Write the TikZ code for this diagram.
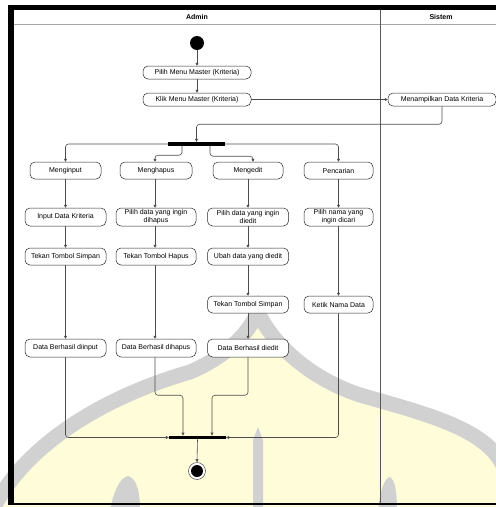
\documentclass[tikz,border=0pt]{standalone}
\usepackage{fontspec}
\setmainfont{Liberation Sans}
\usetikzlibrary{arrows.meta}
\begin{document}
\begin{tikzpicture}[x=1pt,y=-1pt,
  act/.style={draw=black!85, line width=0.5pt, rounded corners=5pt, fill=white, inner sep=0pt,
    font=\fontsize{7}{8}\selectfont, align=center},
  conn/.style={draw=black!70, line width=0.6pt, rounded corners=3pt, -{Triangle[length=3pt,width=3pt]}},
  syncbar/.style={fill=black, draw=none, inner sep=0pt, rectangle},
  lanehead/.style={font=\fontsize{7}{8}\selectfont\bfseries, inner sep=0pt}]
\useasboundingbox (0,0) rectangle (496,507);

% watermark
\begin{scope}
\clip (0,0) rectangle (496,507);
\fill[yellow!15] (-5,505) .. controls (30,440) and (110,395) .. (190,372)
   .. controls (230,355) and (250,330) .. (258,312)
   .. controls (268,335) and (300,375) .. (360,395)
   .. controls (430,415) and (490,430) .. (505,470) -- (505,510) -- (-5,510) -- cycle;
\draw[black!18, line width=15pt] (-5,505) .. controls (30,440) and (110,395) .. (190,372)
   .. controls (230,355) and (250,330) .. (258,312)
   .. controls (268,335) and (300,375) .. (360,395)
   .. controls (430,415) and (490,430) .. (505,470);
\fill[black!18] (253,510) -- (253,440) -- (258,427) -- (263,440) -- (263,510) -- cycle;
\fill[black!18] (110,510) .. controls (114,490) and (120,478) .. (128,476) .. controls (136,478) and (140,490) .. (140,510) -- cycle;
\fill[black!18] (378,510) .. controls (380,492) and (384,478) .. (390,477) .. controls (395,480) and (397,492) .. (397,510) -- cycle;
\end{scope}

% frame and lanes
\fill[black] (8,5) rectangle (496,10);
\fill[black] (8,5) rectangle (14,505);
\fill[black] (8,502.5) rectangle (496,504.5);
\draw[black!35, line width=0.8pt] (14,24) -- (496,24);
\draw[black!65, line width=0.6pt] (380,10) -- (380,503);
\node[lanehead] (admin) at (197,17) {Admin};
\node[lanehead] (sistem) at (441,17) {Sistem};

% nodes
\node[circle, fill=black, minimum size=14pt, inner sep=0pt] (start) at (197,43) {};
\node[act, minimum width=108pt, minimum height=13pt] (pilih) at (197,72.5) {Pilih Menu Master (Kriteria)};
\node[act, minimum width=108pt, minimum height=13pt] (klik) at (197,99.5) {Klik Menu Master (Kriteria)};
\node[act, minimum width=108pt, minimum height=13pt] (tampil) at (442,99.5) {Menampilkan Data Kriteria};
\node[syncbar, minimum width=57pt, minimum height=4pt] (fork) at (196.5,144) {};

\node[act, minimum width=71pt, minimum height=17pt] (menginput) at (65.5,170.5) {Menginput};
\node[act, minimum width=72pt, minimum height=17pt] (menghapus) at (156,170.5) {Menghapus};
\node[act, minimum width=70pt, minimum height=17pt] (mengedit) at (248,170.5) {Mengedit};
\node[act, minimum width=69pt, minimum height=17pt] (pencarian) at (338.5,170.5) {Pencarian};

\node[act, minimum width=81pt, minimum height=18pt] (inputdata) at (65.5,217) {Input Data Kriteria};
\node[act, minimum width=80pt, minimum height=18pt] (pilihhapus) at (156,217) {Pilih data yang ingin\\dihapus};
\node[act, minimum width=81pt, minimum height=18pt] (pilihedit) at (248,217) {Pilih data yang ingin\\diedit};
\node[act, minimum width=69pt, minimum height=18pt] (pilihnama) at (338.5,217) {Pilih nama yang\\ingin dicari};

\node[act, minimum width=81pt, minimum height=17pt] (simpan) at (65.5,256.5) {Tekan Tombol Simpan};
\node[act, minimum width=80pt, minimum height=17pt] (hapus) at (156,256.5) {Tekan Tombol Hapus};
\node[act, minimum width=81pt, minimum height=17pt] (ubah) at (248,256.5) {Ubah data yang diedit};

\node[act, minimum width=81pt, minimum height=17pt] (simpanedit) at (248,304.5) {Tekan Tombol Simpan};
\node[act, minimum width=69pt, minimum height=17pt] (ketik) at (338.5,304.5) {Ketik Nama Data};

\node[act, minimum width=81pt, minimum height=18pt] (diinput) at (65.5,348) {Data Berhasil diinput};
\node[act, minimum width=80pt, minimum height=18pt] (dihapus) at (156,348) {Data Berhasil dihapus};
\node[act, minimum width=81pt, minimum height=18pt] (diedit) at (248,348) {Data Berhasil diedit};

\node[syncbar, minimum width=57pt, minimum height=3.5pt] (join) at (197.5,437.5) {};
\node[circle, draw=black!70, line width=0.5pt, fill=white, minimum size=17pt, inner sep=0pt] (end) at (197,471) {};
\node[circle, fill=black, minimum size=12pt, inner sep=0pt] (endin) at (end) {};

% connectors
\draw[conn] (start) -- (pilih);
\draw[conn] (pilih) -- (klik);
\draw[conn] (klik) -- (tampil);
\draw[conn] (tampil.south) -- ++(0,18) -| (fork.north);
\draw[conn] (fork.west) -| (menginput.north);
\draw[conn] ([xshift=-14.5pt]fork.south) -- ++(0,9) -| ([xshift=-1pt]menghapus.north);
\draw[conn] ([xshift=13.5pt]fork.south) -- ++(0,10) -| ([xshift=5pt]mengedit.north);
\draw[conn] (fork.east) -| (pencarian.north);

\draw[conn] (menginput) -- (inputdata);
\draw[conn] (inputdata) -- (simpan);
\draw[conn] (simpan) -- (diinput);
\draw[conn] ([xshift=-1pt]menghapus.south) -- ([xshift=-1pt]pilihhapus.north);
\draw[conn] ([xshift=-1pt]pilihhapus.south) -- ([xshift=-1pt]hapus.north);
\draw[conn] ([xshift=-1pt]hapus.south) -- ([xshift=-1pt]dihapus.north);
\draw[conn] (mengedit) -- (pilihedit);
\draw[conn] (pilihedit) -- (ubah);
\draw[conn] (ubah) -- (simpanedit);
\draw[conn] (simpanedit) -- (diedit);
\draw[conn] (pencarian) -- (pilihnama);
\draw[conn] (pilihnama) -- (ketik);

\draw[conn] (diinput.south) |- (join.west);
\draw[conn] ([xshift=-1pt]dihapus.south) -- ++(0,38) -| ([xshift=-14.5pt]join.north);
\draw[conn] (diedit.south) -- ++(0,38) -| ([xshift=14.5pt]join.north);
\draw[conn] (ketik.south) |- (join.east);
\draw[conn] (join.south) -- (end.north);
\end{tikzpicture}
\end{document}
